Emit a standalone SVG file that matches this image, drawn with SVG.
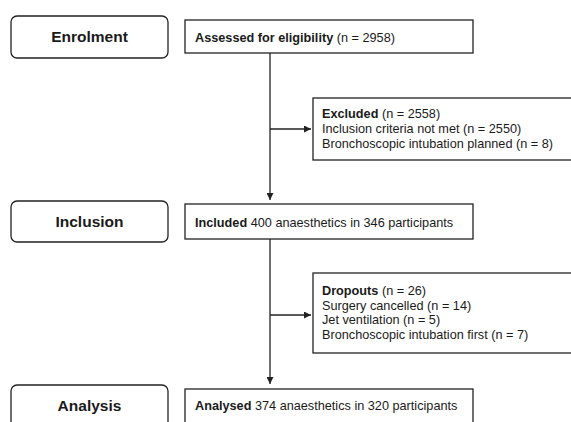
<svg xmlns="http://www.w3.org/2000/svg" width="571" height="422" viewBox="0 0 571 422">
<defs>
<style>
.stage{fill:#fff;stroke:#222;stroke-width:1.3}
.box{fill:#fff;stroke:#222;stroke-width:1.3}
.lbl{font-family:"Liberation Sans",Arial,sans-serif;font-size:15.5px;font-weight:bold;fill:#1a1a1a;text-anchor:middle}
.t{font-family:"Liberation Sans",Arial,sans-serif;font-size:12.7px;fill:#1a1a1a}
.b{font-weight:bold}
.conn{fill:none;stroke:#222;stroke-width:1.3}
</style>
<marker id="ah" viewBox="0 0 10 10" refX="10" refY="5" markerWidth="7" markerHeight="7" markerUnits="userSpaceOnUse" orient="auto">
<path d="M0,0 L10,5 L0,10 Z" fill="#222"/>
</marker>
</defs>
<rect width="571" height="422" fill="#fff"/>
<g id="enrolment"><rect class="stage" x="11" y="16" width="157" height="42" rx="6"/><text class="lbl" x="89.5" y="42">Enrolment</text></g>
<g id="inclusion"><rect class="stage" x="11" y="201" width="157" height="41" rx="6"/><text class="lbl" x="89.5" y="226.5">Inclusion</text></g>
<g id="analysis"><rect class="stage" x="11" y="385" width="157" height="44" rx="6"/><text class="lbl" x="89.5" y="411">Analysis</text></g>
<g id="assessed"><rect class="box" x="185" y="20" width="288" height="33"/><text class="t" x="195" y="42"><tspan class="b">Assessed for eligibility</tspan> (n = 2958)</text></g>
<g id="excluded"><rect class="box" x="313" y="98" width="300" height="62"/><text class="t" x="322" y="118"><tspan class="b">Excluded</tspan> (n = 2558)</text><text class="t" x="322" y="133">Inclusion criteria not met (n = 2550)</text><text class="t" x="322" y="148">Bronchoscopic intubation planned (n = 8)</text></g>
<g id="included"><rect class="box" x="185" y="204" width="288" height="35"/><text class="t" x="195" y="227"><tspan class="b">Included</tspan> 400 anaesthetics in 346 participants</text></g>
<g id="dropouts"><rect class="box" x="313" y="273" width="300" height="80"/><text class="t" x="322" y="295"><tspan class="b">Dropouts</tspan> (n = 26)</text><text class="t" x="322" y="309.7">Surgery cancelled (n = 14)</text><text class="t" x="322" y="324.4">Jet ventilation (n = 5)</text><text class="t" x="322" y="339.1">Bronchoscopic intubation first (n = 7)</text></g>
<g id="analysed"><rect class="box" x="185" y="389" width="288" height="40"/><text class="t" x="195" y="410"><tspan class="b">Analysed</tspan> 374 anaesthetics in 320 participants</text></g>
<g id="connectors">
<path class="conn" d="M270,53 V200" marker-end="url(#ah)"/>
<path class="conn" d="M270,129 H311" marker-end="url(#ah)"/>
<path class="conn" d="M270,239 V384" marker-end="url(#ah)"/>
<path class="conn" d="M270,315 H311" marker-end="url(#ah)"/>
</g>
</svg>
